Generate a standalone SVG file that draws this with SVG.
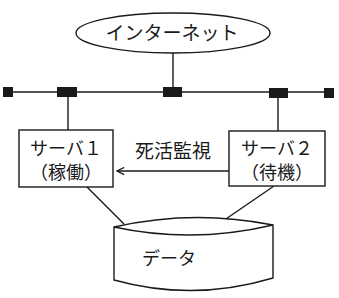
<svg xmlns="http://www.w3.org/2000/svg" width="339" height="298" viewBox="0 0 339 298">
<defs>
<style>
.ln{fill:none;stroke:#1a1a1a;stroke-width:1.4}
.bx{fill:#fff;stroke:#1a1a1a;stroke-width:1.4}
.jack{fill:#1a1a1a}
text{font-family:"Noto Sans CJK JP","Liberation Serif",serif;font-size:18px;fill:#1a1a1a;text-anchor:middle}
</style>
<marker id="arr" viewBox="0 0 10 10" refX="9" refY="5" markerWidth="9" markerHeight="9" orient="auto" markerUnits="userSpaceOnUse">
<path d="M1,1 L9,5 L1,9" fill="none" stroke="#1a1a1a" stroke-width="1.4"/>
</marker>
</defs>
<rect width="339" height="298" fill="#fff"/>
<g id="connectors">
<line class="ln" x1="173" y1="53" x2="173" y2="92"/>
<line class="ln" x1="6" y1="92" x2="330" y2="92"/>
<line class="ln" x1="68" y1="92" x2="68" y2="130"/>
<line class="ln" x1="278" y1="92" x2="278" y2="131"/>
<line class="ln" x1="87" y1="187" x2="124" y2="224"/>
<line class="ln" x1="274" y1="186" x2="220" y2="223"/>
<line class="ln" x1="229" y1="171" x2="117" y2="171" marker-end="url(#arr)"/>
<text x="173" y="158" style="font-size:19px">死活監視</text>
</g>
<g id="bus">
<rect class="jack" x="3" y="87" width="10" height="10"/>
<rect class="jack" x="57" y="87" width="20" height="10"/>
<rect class="jack" x="163" y="87" width="19" height="10"/>
<rect class="jack" x="269" y="88" width="19" height="10"/>
<rect class="jack" x="324" y="88" width="10" height="10"/>
</g>
<g id="internet">
<ellipse class="bx" cx="173" cy="33" rx="97" ry="20"/>
<text x="172" y="40" style="font-size:19px">インターネット</text>
</g>
<g id="server1">
<rect class="bx" x="19" y="130" width="94" height="57"/>
<text x="66" y="155">サーバ１</text>
<text x="66" y="179">（稼働）</text>
</g>
<g id="server2">
<rect class="bx" x="229" y="131" width="96" height="55"/>
<text x="277" y="155">サーバ２</text>
<text x="277" y="179">（待機）</text>
</g>
<g id="data">
<path class="bx" d="M114,227 Q193,209 273,225 L273,278 Q193,302 114,280 Z"/>
<path class="ln" d="M114,227 Q193,244 273,225"/>
<text x="169" y="265">データ</text>
</g>
</svg>
